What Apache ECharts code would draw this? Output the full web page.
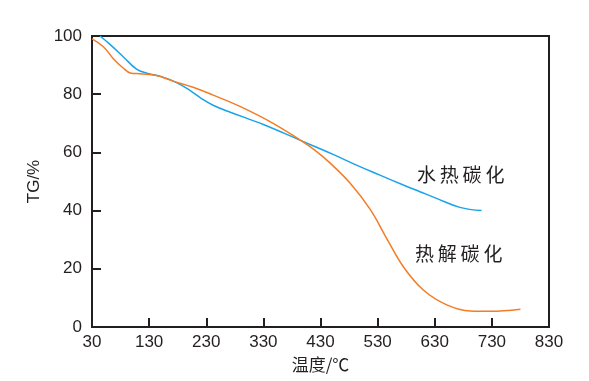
<!DOCTYPE html>
<html>
<head>
<meta charset="utf-8">
<script src="https://cdn.jsdelivr.net/npm/echarts@6/dist/echarts.min.js"></script>
<style>html,body{margin:0;padding:0;background:#fff;}#c{width:589px;height:381px;}</style>
</head>
<body>
<div id="c"></div>
<script>
// Temperature (°C) and TG (%)
const hydroTemp = [44, 61, 85, 108, 126, 149, 178, 202, 221, 242, 272, 330, 394, 450, 499, 534, 575, 604, 633, 674, 712];
const hydroTG   = [100, 97.2, 92.8, 88.6, 87.2, 86.2, 84.0, 81.2, 78.6, 76.2, 73.8, 69.6, 64.2, 59.5, 55.1, 52.2, 48.8, 46.5, 44.2, 41.1, 40.0];
const pyroTemp  = [30, 50, 67, 85, 97, 114, 143, 172, 207, 242, 289, 347, 394, 420, 447, 482, 517, 546, 575, 610, 651, 692, 727, 780];
const pyroTG    = [99, 96.3, 92.3, 88.9, 87.3, 87.0, 86.4, 84.5, 82.4, 79.7, 75.8, 70.0, 64.3, 60.8, 56.3, 49.4, 40.4, 30.4, 20.7, 12.7, 7.6, 5.5, 5.4, 6.1];
const seriesNames = ['水热碳化', '热解碳化'];
const xTicks = [30, 130, 230, 330, 430, 530, 630, 730, 830];
const yTicks = [0, 20, 40, 60, 80, 100];

const zip = (a, b) => a.map((v, i) => [v, b[i]]);
const axisColor = '#231f20';
const numFont = '"Liberation Sans", Arial, sans-serif';
const cjkFont = '"Noto Sans CJK SC", sans-serif';
const spaced = s => s.split('').join('\u2009');

const chart = echarts.init(document.getElementById('c'), null, {renderer: 'canvas'});
chart.setOption({
  animation: false,
  backgroundColor: '#fff',
  grid: {left: 92, right: 40, top: 36, bottom: 54, show: true, borderColor: axisColor, borderWidth: 2, backgroundColor: 'transparent'},
  xAxis: {
    type: 'value', min: xTicks[0], max: xTicks[xTicks.length - 1], interval: 100,
    name: '温度/℃', nameLocation: 'middle', nameGap: 29,
    nameTextStyle: {fontFamily: cjkFont, fontSize: 17, color: axisColor},
    axisLine: {show: true, lineStyle: {color: axisColor, width: 2}},
    axisTick: {show: true, inside: true, length: 9, lineStyle: {color: axisColor, width: 2}},
    axisLabel: {fontFamily: numFont, fontSize: 17, color: axisColor, margin: 7},
    splitLine: {show: false}
  },
  yAxis: {
    type: 'value', min: yTicks[0], max: yTicks[yTicks.length - 1], interval: 20,
    name: 'TG/%', nameLocation: 'middle', nameGap: 45, nameRotate: 90,
    nameTextStyle: {fontFamily: numFont, fontSize: 17, color: axisColor},
    axisLine: {show: true, lineStyle: {color: axisColor, width: 2}},
    axisTick: {show: true, inside: true, length: 9, lineStyle: {color: axisColor, width: 2}},
    axisLabel: {fontFamily: numFont, fontSize: 17, color: axisColor, margin: 10},
    splitLine: {show: false}
  },
  series: [
    {name: seriesNames[0], type: 'line', data: zip(hydroTemp, hydroTG), smooth: 0.4, showSymbol: false,
     lineStyle: {color: '#1aa3e8', width: 1.5}, z: 3},
    {name: seriesNames[1], type: 'line', data: zip(pyroTemp, pyroTG), smooth: 0.4, showSymbol: false,
     lineStyle: {color: '#f47c26', width: 1.5}, z: 4}
  ],
  graphic: [
    {type: 'text', left: 417, top: 165, style: {text: spaced(seriesNames[0]), font: '19px "Noto Sans CJK SC", sans-serif', fill: '#231f20'}},
    {type: 'text', left: 415, top: 244, style: {text: spaced(seriesNames[1]), font: '19px "Noto Sans CJK SC", sans-serif', fill: '#231f20'}}
  ]
});
</script>
</body>
</html>
